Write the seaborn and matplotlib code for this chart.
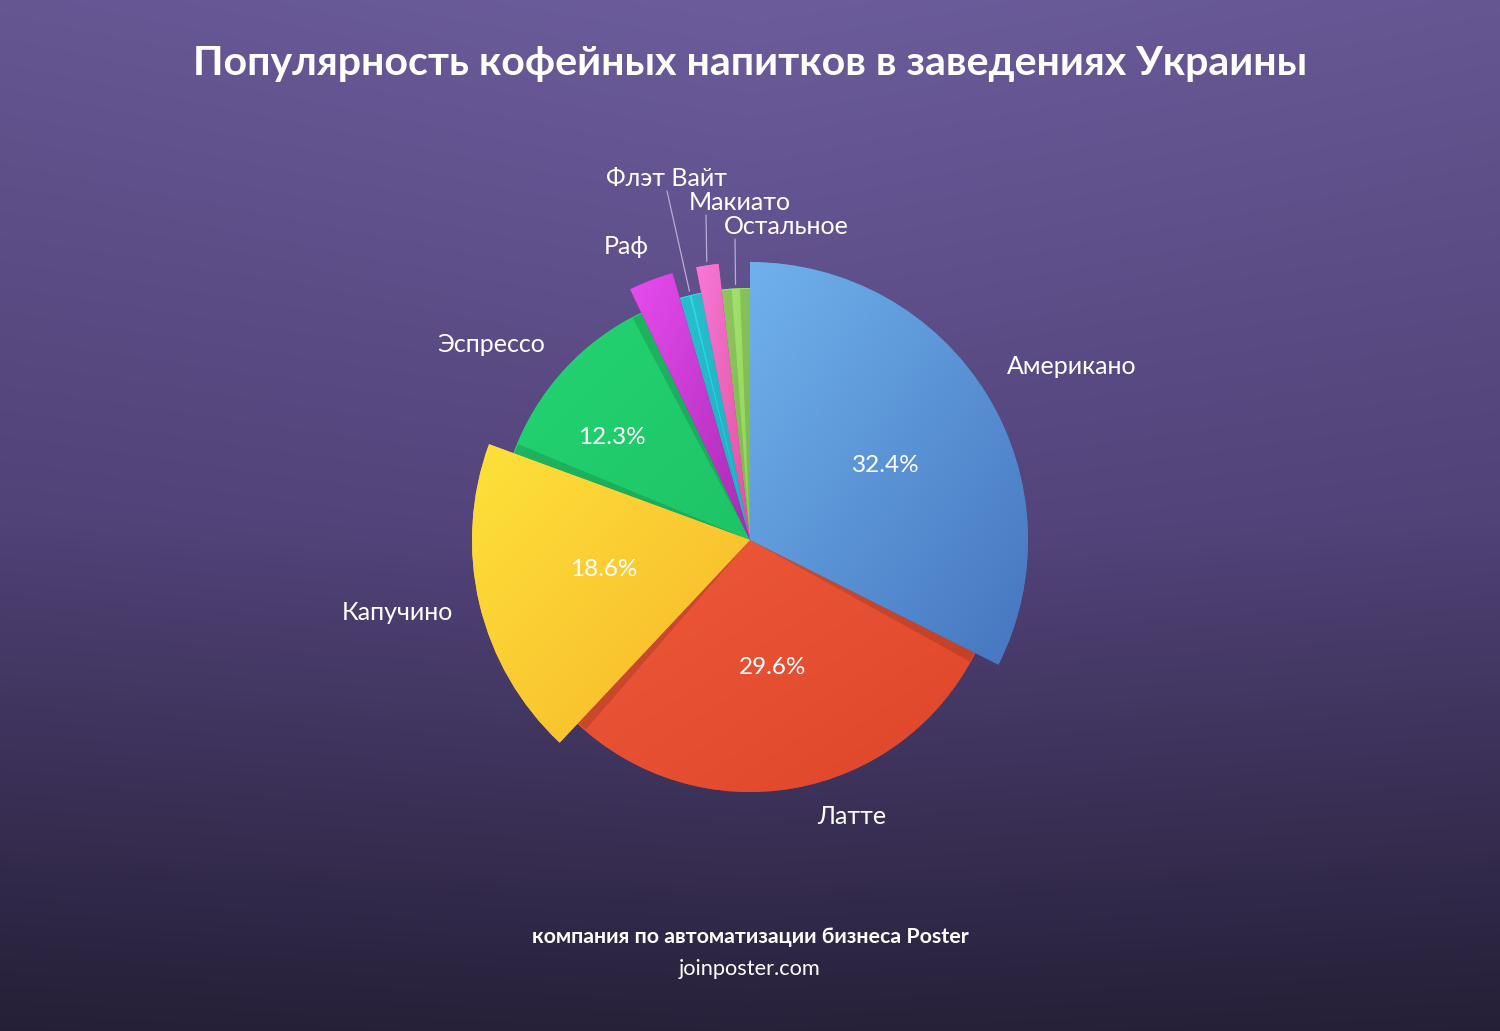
import numpy as np
import matplotlib
matplotlib.use("Agg")
import matplotlib.pyplot as plt
import seaborn as sns
from matplotlib.colors import LinearSegmentedColormap, to_rgb
from matplotlib.patches import Wedge

sns.set_theme(style="white")
plt.rcParams['font.family'] = ['Lato', 'DejaVu Sans']

# ---- data ----
drinks = ["Американо", "Латте", "Капучино", "Эспрессо", "Раф", "Флэт Вайт", "Макиато", "Остальное"]
shares = [32.4, 29.6, 18.6, 12.3, 2.6, 1.4, 1.3, 1.8]
pct_labels = ["32.4%", "29.6%", "18.6%", "12.3%", "", "", "", ""]
color_light = ["#70b2ec", "#ee5a3a", "#fee23a", "#24d472", "#e84cf0", "#30dcec", "#f77ad8", "#a6e472"]
color_dark = ["#4575bf", "#de4529", "#f7b52a", "#1ec466", "#a82ab2", "#20c8dc", "#e0509e", "#8cd458"]
raised = [True, False, True, False, True, False, True, False]

title = "Популярность кофейных напитков в заведениях Украины"
footer1 = "компания по автоматизации бизнеса Poster"
footer2 = "joinposter.com"

W, H = 1500, 1031
fig = plt.figure(figsize=(W / 100, H / 100), dpi=100)
ax = fig.add_axes([0, 0, 1, 1])
ax.set_xlim(0, W)
ax.set_ylim(0, H)
ax.axis("off")

# background gradient
yy, xx = np.mgrid[0:H, 0:W]
t = yy / H  # 0 at bottom
cx = np.abs(xx - W / 2) / (W / 2)
top = np.array(to_rgb("#6c5c9c"))
mid = np.array(to_rgb("#56467f"))
bot = np.array(to_rgb("#27213a"))
tt = t[..., None]
img = np.where(tt > 0.5, mid + (top - mid) * (tt - 0.5) / 0.5, bot + (mid - bot) * tt / 0.5)
img = img * (1 - 0.06 * cx[..., None])
ax.imshow(np.clip(img, 0, 1), extent=(0, W, 0, H), origin="lower", zorder=0, aspect="auto")

cx0, cy0 = 750, 491
R_small, R_big = 252, 278

wedges, _ = ax.pie(shares, startangle=90, counterclock=False, radius=R_small,
                   center=(cx0, cy0), colors=color_dark,
                   wedgeprops=dict(linewidth=0), frame=False)
ax.set_xlim(0, W)
ax.set_ylim(0, H)
ax.set_aspect("auto")

gx, gy = np.meshgrid(np.linspace(0, 1, 200), np.linspace(0, 1, 200))
grad = (gx + gy) / 2
for i, w in enumerate(wedges):
    if raised[i]:
        w.set_radius(R_big)
        w.set_zorder(4)
        # shadow cast onto neighbours
        sh = Wedge((cx0, cy0), R_small - 1, w.theta1 - 2.3, w.theta2 + 2.3,
                   facecolor="black", alpha=0.13, linewidth=0, zorder=3)
        ax.add_patch(sh)
    else:
        w.set_zorder(2)
    # gradient fill clipped to wedge (light top-left -> dark bottom-right)
    verts = w.get_path().vertices
    x0, y0 = verts.min(axis=0)
    x1, y1 = verts.max(axis=0)
    cmap = LinearSegmentedColormap.from_list(f"g{i}", [color_light[i], color_dark[i]])
    im = ax.imshow(grad, cmap=cmap, extent=(x0 - 2, x1 + 2, y0 - 2, y1 + 2),
                   origin="upper", zorder=w.get_zorder() + 0.1, aspect="auto")
    im.set_clip_path(w)

# percentage labels (screen positions, y from top)
pct_pos = [(886, 466), (773, 668), (604, 570), (612, 437)]
for i, (px, py) in enumerate(pct_pos):
    ax.text(px, H - py, pct_labels[i], color="white", fontsize=17.5, ha="center", va="center", zorder=10)

# outer labels (screen positions, y measured from top)
label_pos = [(1072, 366), (852, 817), (397, 613), (491, 344), (626, 247), (667, 178), (740, 202), (786, 226)]
for i, (lx, ly) in enumerate(label_pos):
    ax.text(lx, H - ly, drinks[i], color="white", fontsize=18, ha="center", va="center", zorder=10)

# leader lines for small slices
leader_idx = [5, 6, 7]
leader_start = [(667, 191), (706, 215), (735, 239)]
for k, i in enumerate(leader_idx):
    w = wedges[i]
    a = np.deg2rad((w.theta1 + w.theta2) / 2)
    ex = cx0 + (w.r + 4) * np.cos(a)
    ey = cy0 + (w.r + 4) * np.sin(a)
    sx, sy = leader_start[k]
    ax.plot([sx, ex], [H - sy, ey], color="#b8acd8", lw=0.9, zorder=9)

ax.text(W / 2, H - 63, title, color="white", fontsize=29.6, fontweight="bold",
        ha="center", va="center", zorder=10)
ax.text(W / 2, H - 937, footer1, color="white", fontsize=15.4, fontweight="bold",
        ha="center", va="center", zorder=10)
ax.text(W / 2, H - 969, footer2, color="white", fontsize=15.7,
        ha="center", va="center", zorder=10)

fig.savefig("out.png", dpi=100)
